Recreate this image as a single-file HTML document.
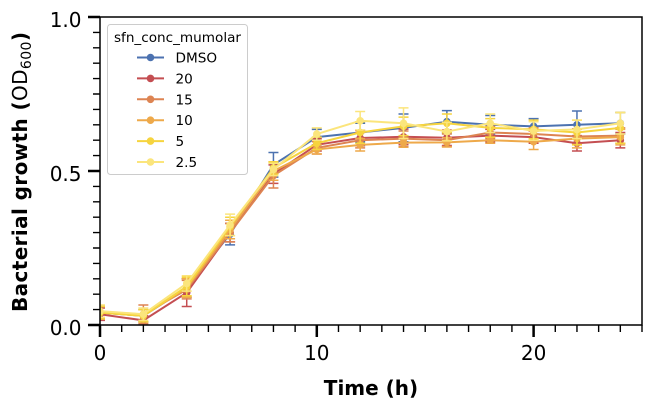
<!DOCTYPE html>
<html><head><meta charset="utf-8"><style>
html,body{margin:0;padding:0;background:#fff;}
svg{display:block;font-family:"DejaVu Sans","Liberation Sans",sans-serif;}
</style></head><body>
<svg width="652" height="408" viewBox="0 0 652 408" xmlns="http://www.w3.org/2000/svg">
<rect width="652" height="408" fill="#fff"/>
<defs><clipPath id="c"><rect x="100" y="17" width="542" height="308"/></clipPath></defs>
<g clip-path="url(#c)" fill="none" stroke-width="2" stroke-linejoin="round">
<!-- DMSO -->
<g stroke="#4c72b0">
<polyline points="100,312.68 143.36,315.76 186.72,288.04 230.08,234.14 273.44,164.84 316.8,137.12 360.16,132.5 403.52,127.88 446.88,121.72 490.24,124.8 533.6,126.34 576.96,124.8 620.32,123.26"/>
<g stroke-width="1.5">
<path transform="translate(100,312.68)" d="M0-6.16V6.16M-5-6.16h10M-5 6.16h10"/>
<path transform="translate(143.36,315.76)" d="M0-6.16V6.16M-5-6.16h10M-5 6.16h10"/>
<path transform="translate(186.72,288.04)" d="M0-9.24V9.24M-5-9.24h10M-5 9.24h10"/>
<path transform="translate(230.08,234.14)" d="M0-10.78V10.78M-5-10.78h10M-5 10.78h10"/>
<path transform="translate(273.44,164.84)" d="M0-12.32V12.32M-5-12.32h10M-5 12.32h10"/>
<path transform="translate(316.8,137.12)" d="M0-7.7V7.7M-5-7.7h10M-5 7.7h10"/>
<path transform="translate(360.16,132.5)" d="M0-9.24V9.24M-5-9.24h10M-5 9.24h10"/>
<path transform="translate(403.52,127.88)" d="M0-13.86V13.86M-5-13.86h10M-5 13.86h10"/>
<path transform="translate(446.88,121.72)" d="M0-11.09V11.09M-5-11.09h10M-5 11.09h10"/>
<path transform="translate(490.24,124.8)" d="M0-9.24V9.24M-5-9.24h10M-5 9.24h10"/>
<path transform="translate(533.6,126.34)" d="M0-7.7V7.7M-5-7.7h10M-5 7.7h10"/>
<path transform="translate(576.96,124.8)" d="M0-13.86V13.86M-5-13.86h10M-5 13.86h10"/>
<path transform="translate(620.32,123.26)" d="M0-10.78V10.78M-5-10.78h10M-5 10.78h10"/>
</g>
<g fill="#4c72b0" stroke="none">
<circle cx="100" cy="312.68" r="3.8"/><circle cx="143.36" cy="315.76" r="3.8"/><circle cx="186.72" cy="288.04" r="3.8"/><circle cx="230.08" cy="234.14" r="3.8"/><circle cx="273.44" cy="164.84" r="3.8"/><circle cx="316.8" cy="137.12" r="3.8"/><circle cx="360.16" cy="132.5" r="3.8"/><circle cx="403.52" cy="127.88" r="3.8"/><circle cx="446.88" cy="121.72" r="3.8"/><circle cx="490.24" cy="124.8" r="3.8"/><circle cx="533.6" cy="126.34" r="3.8"/><circle cx="576.96" cy="124.8" r="3.8"/><circle cx="620.32" cy="123.26" r="3.8"/>
</g></g>
<!-- 20 -->
<g stroke="#c44e52">
<polyline points="100,314.22 143.36,320.38 186.72,292.66 230.08,232.6 273.44,174.08 316.8,144.82 360.16,138.04 403.52,136.81 446.88,137.74 490.24,135.58 533.6,137.12 576.96,143.28 620.32,140.2"/>
<g stroke-width="1.5">
<path transform="translate(100,314.22)" d="M0-6.16V6.16M-5-6.16h10M-5 6.16h10"/>
<path transform="translate(143.36,320.38)" d="M0-4.62V4.62M-5-4.62h10M-5 4.62h10"/>
<path transform="translate(186.72,292.66)" d="M0-13.86V13.86M-5-13.86h10M-5 13.86h10"/>
<path transform="translate(230.08,232.6)" d="M0-9.24V9.24M-5-9.24h10M-5 9.24h10"/>
<path transform="translate(273.44,174.08)" d="M0-9.24V9.24M-5-9.24h10M-5 9.24h10"/>
<path transform="translate(316.8,144.82)" d="M0-6.16V6.16M-5-6.16h10M-5 6.16h10"/>
<path transform="translate(360.16,138.04)" d="M0-7.7V7.7M-5-7.7h10M-5 7.7h10"/>
<path transform="translate(403.52,136.81)" d="M0-7.7V7.7M-5-7.7h10M-5 7.7h10"/>
<path transform="translate(446.88,137.74)" d="M0-7.7V7.7M-5-7.7h10M-5 7.7h10"/>
<path transform="translate(490.24,135.58)" d="M0-6.16V6.16M-5-6.16h10M-5 6.16h10"/>
<path transform="translate(533.6,137.12)" d="M0-6.16V6.16M-5-6.16h10M-5 6.16h10"/>
<path transform="translate(576.96,143.28)" d="M0-7.7V7.7M-5-7.7h10M-5 7.7h10"/>
<path transform="translate(620.32,140.2)" d="M0-7.7V7.7M-5-7.7h10M-5 7.7h10"/>
</g>
<g fill="#c44e52" stroke="none">
<circle cx="100" cy="314.22" r="3.8"/><circle cx="143.36" cy="320.38" r="3.8"/><circle cx="186.72" cy="292.66" r="3.8"/><circle cx="230.08" cy="232.6" r="3.8"/><circle cx="273.44" cy="174.08" r="3.8"/><circle cx="316.8" cy="144.82" r="3.8"/><circle cx="360.16" cy="138.04" r="3.8"/><circle cx="403.52" cy="136.81" r="3.8"/><circle cx="446.88" cy="137.74" r="3.8"/><circle cx="490.24" cy="135.58" r="3.8"/><circle cx="533.6" cy="137.12" r="3.8"/><circle cx="576.96" cy="143.28" r="3.8"/><circle cx="620.32" cy="140.2" r="3.8"/>
</g></g>
<!-- 15 -->
<g stroke="#dd8452">
<polyline points="100,312.68 143.36,314.22 186.72,289.58 230.08,232.6 273.44,175.62 316.8,147.9 360.16,140.2 403.52,138.66 446.88,140.2 490.24,132.5 533.6,134.04 576.96,136.5 620.32,135.58"/>
<g stroke-width="1.5">
<path transform="translate(100,312.68)" d="M0-6.16V6.16M-5-6.16h10M-5 6.16h10"/>
<path transform="translate(143.36,314.22)" d="M0-9.24V9.24M-5-9.24h10M-5 9.24h10"/>
<path transform="translate(186.72,289.58)" d="M0-9.24V9.24M-5-9.24h10M-5 9.24h10"/>
<path transform="translate(230.08,232.6)" d="M0-9.24V9.24M-5-9.24h10M-5 9.24h10"/>
<path transform="translate(273.44,175.62)" d="M0-12.32V12.32M-5-12.32h10M-5 12.32h10"/>
<path transform="translate(316.8,147.9)" d="M0-6.16V6.16M-5-6.16h10M-5 6.16h10"/>
<path transform="translate(360.16,140.2)" d="M0-7.7V7.7M-5-7.7h10M-5 7.7h10"/>
<path transform="translate(403.52,138.66)" d="M0-7.7V7.7M-5-7.7h10M-5 7.7h10"/>
<path transform="translate(446.88,140.2)" d="M0-6.16V6.16M-5-6.16h10M-5 6.16h10"/>
<path transform="translate(490.24,132.5)" d="M0-6.16V6.16M-5-6.16h10M-5 6.16h10"/>
<path transform="translate(533.6,134.04)" d="M0-6.16V6.16M-5-6.16h10M-5 6.16h10"/>
<path transform="translate(576.96,136.5)" d="M0-7.7V7.7M-5-7.7h10M-5 7.7h10"/>
<path transform="translate(620.32,135.58)" d="M0-7.7V7.7M-5-7.7h10M-5 7.7h10"/>
</g>
<g fill="#dd8452" stroke="none">
<circle cx="100" cy="312.68" r="3.8"/><circle cx="143.36" cy="314.22" r="3.8"/><circle cx="186.72" cy="289.58" r="3.8"/><circle cx="230.08" cy="232.6" r="3.8"/><circle cx="273.44" cy="175.62" r="3.8"/><circle cx="316.8" cy="147.9" r="3.8"/><circle cx="360.16" cy="140.2" r="3.8"/><circle cx="403.52" cy="138.66" r="3.8"/><circle cx="446.88" cy="140.2" r="3.8"/><circle cx="490.24" cy="132.5" r="3.8"/><circle cx="533.6" cy="134.04" r="3.8"/><circle cx="576.96" cy="136.5" r="3.8"/><circle cx="620.32" cy="135.58" r="3.8"/>
</g></g>
<!-- 10 -->
<g stroke="#eea94a">
<polyline points="100,312.68 143.36,315.76 186.72,288.04 230.08,229.52 273.44,171 316.8,149.44 360.16,144.82 403.52,142.66 446.88,142.36 490.24,140.2 533.6,141.74 576.96,138.66 620.32,137.12"/>
<g stroke-width="1.5">
<path transform="translate(100,312.68)" d="M0-6.16V6.16M-5-6.16h10M-5 6.16h10"/>
<path transform="translate(143.36,315.76)" d="M0-6.16V6.16M-5-6.16h10M-5 6.16h10"/>
<path transform="translate(186.72,288.04)" d="M0-9.24V9.24M-5-9.24h10M-5 9.24h10"/>
<path transform="translate(230.08,229.52)" d="M0-9.24V9.24M-5-9.24h10M-5 9.24h10"/>
<path transform="translate(273.44,171)" d="M0-9.24V9.24M-5-9.24h10M-5 9.24h10"/>
<path transform="translate(316.8,149.44)" d="M0-4.62V4.62M-5-4.62h10M-5 4.62h10"/>
<path transform="translate(360.16,144.82)" d="M0-6.16V6.16M-5-6.16h10M-5 6.16h10"/>
<path transform="translate(403.52,142.66)" d="M0-4.62V4.62M-5-4.62h10M-5 4.62h10"/>
<path transform="translate(446.88,142.36)" d="M0-4.62V4.62M-5-4.62h10M-5 4.62h10"/>
<path transform="translate(490.24,140.2)" d="M0-3.08V3.08M-5-3.08h10M-5 3.08h10"/>
<path transform="translate(533.6,141.74)" d="M0-7.7V7.7M-5-7.7h10M-5 7.7h10"/>
<path transform="translate(576.96,138.66)" d="M0-9.24V9.24M-5-9.24h10M-5 9.24h10"/>
<path transform="translate(620.32,137.12)" d="M0-7.7V7.7M-5-7.7h10M-5 7.7h10"/>
</g>
<g fill="#eea94a" stroke="none">
<circle cx="100" cy="312.68" r="3.8"/><circle cx="143.36" cy="315.76" r="3.8"/><circle cx="186.72" cy="288.04" r="3.8"/><circle cx="230.08" cy="229.52" r="3.8"/><circle cx="273.44" cy="171" r="3.8"/><circle cx="316.8" cy="149.44" r="3.8"/><circle cx="360.16" cy="144.82" r="3.8"/><circle cx="403.52" cy="142.66" r="3.8"/><circle cx="446.88" cy="142.36" r="3.8"/><circle cx="490.24" cy="140.2" r="3.8"/><circle cx="533.6" cy="141.74" r="3.8"/><circle cx="576.96" cy="138.66" r="3.8"/><circle cx="620.32" cy="137.12" r="3.8"/>
</g></g>
<!-- 5 -->
<g stroke="#f6d43e">
<polyline points="100,312.68 143.36,315.76 186.72,286.5 230.08,226.44 273.44,167.92 316.8,143.28 360.16,132.5 403.52,126.34 446.88,123.26 490.24,127.88 533.6,129.42 576.96,132.5 620.32,127.88"/>
<g stroke-width="1.5">
<path transform="translate(100,312.68)" d="M0-6.16V6.16M-5-6.16h10M-5 6.16h10"/>
<path transform="translate(143.36,315.76)" d="M0-6.16V6.16M-5-6.16h10M-5 6.16h10"/>
<path transform="translate(186.72,286.5)" d="M0-9.24V9.24M-5-9.24h10M-5 9.24h10"/>
<path transform="translate(230.08,226.44)" d="M0-9.24V9.24M-5-9.24h10M-5 9.24h10"/>
<path transform="translate(273.44,167.92)" d="M0-6.16V6.16M-5-6.16h10M-5 6.16h10"/>
<path transform="translate(316.8,143.28)" d="M0-6.16V6.16M-5-6.16h10M-5 6.16h10"/>
<path transform="translate(360.16,132.5)" d="M0-10.78V10.78M-5-10.78h10M-5 10.78h10"/>
<path transform="translate(403.52,126.34)" d="M0-9.24V9.24M-5-9.24h10M-5 9.24h10"/>
<path transform="translate(446.88,123.26)" d="M0-9.24V9.24M-5-9.24h10M-5 9.24h10"/>
<path transform="translate(490.24,127.88)" d="M0-9.24V9.24M-5-9.24h10M-5 9.24h10"/>
<path transform="translate(533.6,129.42)" d="M0-9.24V9.24M-5-9.24h10M-5 9.24h10"/>
<path transform="translate(576.96,132.5)" d="M0-12.32V12.32M-5-12.32h10M-5 12.32h10"/>
<path transform="translate(620.32,127.88)" d="M0-15.4V15.4M-5-15.4h10M-5 15.4h10"/>
</g>
<g fill="#f6d43e" stroke="none">
<circle cx="100" cy="312.68" r="3.8"/><circle cx="143.36" cy="315.76" r="3.8"/><circle cx="186.72" cy="286.5" r="3.8"/><circle cx="230.08" cy="226.44" r="3.8"/><circle cx="273.44" cy="167.92" r="3.8"/><circle cx="316.8" cy="143.28" r="3.8"/><circle cx="360.16" cy="132.5" r="3.8"/><circle cx="403.52" cy="126.34" r="3.8"/><circle cx="446.88" cy="123.26" r="3.8"/><circle cx="490.24" cy="127.88" r="3.8"/><circle cx="533.6" cy="129.42" r="3.8"/><circle cx="576.96" cy="132.5" r="3.8"/><circle cx="620.32" cy="127.88" r="3.8"/>
</g></g>
<!-- 2.5 -->
<g stroke="#fbe57c">
<polyline points="100,311.14 143.36,314.22 186.72,283.42 230.08,224.9 273.44,169.46 316.8,134.04 360.16,120.8 403.52,123.26 446.88,131.58 490.24,123.26 533.6,130.96 576.96,129.42 620.32,123.26"/>
<g stroke-width="1.5">
<path transform="translate(100,311.14)" d="M0-6.16V6.16M-5-6.16h10M-5 6.16h10"/>
<path transform="translate(143.36,314.22)" d="M0-6.16V6.16M-5-6.16h10M-5 6.16h10"/>
<path transform="translate(186.72,283.42)" d="M0-7.7V7.7M-5-7.7h10M-5 7.7h10"/>
<path transform="translate(230.08,224.9)" d="M0-10.78V10.78M-5-10.78h10M-5 10.78h10"/>
<path transform="translate(273.44,169.46)" d="M0-6.16V6.16M-5-6.16h10M-5 6.16h10"/>
<path transform="translate(316.8,134.04)" d="M0-6.16V6.16M-5-6.16h10M-5 6.16h10"/>
<path transform="translate(360.16,120.8)" d="M0-9.24V9.24M-5-9.24h10M-5 9.24h10"/>
<path transform="translate(403.52,123.26)" d="M0-15.4V15.4M-5-15.4h10M-5 15.4h10"/>
<path transform="translate(446.88,131.58)" d="M0-9.24V9.24M-5-9.24h10M-5 9.24h10"/>
<path transform="translate(490.24,123.26)" d="M0-9.24V9.24M-5-9.24h10M-5 9.24h10"/>
<path transform="translate(533.6,130.96)" d="M0-9.24V9.24M-5-9.24h10M-5 9.24h10"/>
<path transform="translate(576.96,129.42)" d="M0-9.24V9.24M-5-9.24h10M-5 9.24h10"/>
<path transform="translate(620.32,123.26)" d="M0-10.78V10.78M-5-10.78h10M-5 10.78h10"/>
</g>
<g fill="#fbe57c" stroke="none">
<circle cx="100" cy="311.14" r="3.8"/><circle cx="143.36" cy="314.22" r="3.8"/><circle cx="186.72" cy="283.42" r="3.8"/><circle cx="230.08" cy="224.9" r="3.8"/><circle cx="273.44" cy="169.46" r="3.8"/><circle cx="316.8" cy="134.04" r="3.8"/><circle cx="360.16" cy="120.8" r="3.8"/><circle cx="403.52" cy="123.26" r="3.8"/><circle cx="446.88" cy="131.58" r="3.8"/><circle cx="490.24" cy="123.26" r="3.8"/><circle cx="533.6" cy="130.96" r="3.8"/><circle cx="576.96" cy="129.42" r="3.8"/><circle cx="620.32" cy="123.26" r="3.8"/>
</g></g>
</g>

<!-- spines -->
<rect x="100" y="17" width="542" height="308" fill="none" stroke="#000" stroke-width="1.5"/>

<!-- ticks -->
<g stroke="#000">
<path stroke-width="2.5" d="M88 17H100M88 171H100M88 325H100M100 325V337M316.8 325V337M533.6 325V337"/>
<path stroke-width="1.4" d="M93 309.6H100M93 294.2H100M93 278.8H100M93 263.4H100M93 248H100M93 232.6H100M93 217.2H100M93 201.8H100M93 186.4H100M93 155.6H100M93 140.2H100M93 124.8H100M93 109.4H100M93 94H100M93 78.6H100M93 63.2H100M93 47.8H100M93 32.4H100
M121.68 325V332M143.36 325V332M165.04 325V332M186.72 325V332M208.4 325V332M230.08 325V332M251.76 325V332M273.44 325V332M295.12 325V332M338.48 325V332M360.16 325V332M381.84 325V332M403.52 325V332M425.2 325V332M446.88 325V332M468.56 325V332M490.24 325V332M511.92 325V332M555.28 325V332M576.96 325V332M598.64 325V332M620.32 325V332M642 325V332"/>
</g>

<!-- tick labels -->
<g font-size="20" fill="#000">
<text x="81.5" y="27" text-anchor="end">1.0</text>
<text x="81.5" y="181" text-anchor="end">0.5</text>
<text x="81.5" y="335" text-anchor="end">0.0</text>
<text x="100" y="360" text-anchor="middle">0</text>
<text x="316.8" y="360" text-anchor="middle">10</text>
<text x="533.6" y="360" text-anchor="middle">20</text>
</g>

<!-- axis labels -->
<text x="371" y="395" text-anchor="middle" font-size="20" font-weight="bold" fill="#000">Time (h)</text>
<text transform="translate(27,172) rotate(-90)" text-anchor="middle" font-size="20" font-weight="bold" fill="#000" textLength="280" lengthAdjust="spacing">Bacterial growth (<tspan font-weight="normal">OD</tspan><tspan font-weight="normal" font-size="14" dy="4">600</tspan><tspan dy="-4">)</tspan></text>

<!-- legend -->
<rect x="107.5" y="24.5" width="140" height="150" rx="3" ry="3" fill="#fff" fill-opacity="0.8" stroke="#cccccc" stroke-width="1"/>
<text x="177.5" y="42" text-anchor="middle" font-size="13.6" fill="#000">sfn_conc_mumolar</text>
<g stroke-width="2" font-size="13.6">
<line x1="137" y1="57.5" x2="164" y2="57.5" stroke="#4c72b0"/><circle cx="150.5" cy="57.5" r="3.8" fill="#4c72b0"/><text x="175.5" y="62.5" fill="#000">DMSO</text>
<line x1="137" y1="78.4" x2="164" y2="78.4" stroke="#c44e52"/><circle cx="150.5" cy="78.4" r="3.8" fill="#c44e52"/><text x="175.5" y="83.4" fill="#000">20</text>
<line x1="137" y1="99.3" x2="164" y2="99.3" stroke="#dd8452"/><circle cx="150.5" cy="99.3" r="3.8" fill="#dd8452"/><text x="175.5" y="104.3" fill="#000">15</text>
<line x1="137" y1="120.2" x2="164" y2="120.2" stroke="#eea94a"/><circle cx="150.5" cy="120.2" r="3.8" fill="#eea94a"/><text x="175.5" y="125.2" fill="#000">10</text>
<line x1="137" y1="141.1" x2="164" y2="141.1" stroke="#f6d43e"/><circle cx="150.5" cy="141.1" r="3.8" fill="#f6d43e"/><text x="175.5" y="146.1" fill="#000">5</text>
<line x1="137" y1="162" x2="164" y2="162" stroke="#fbe57c"/><circle cx="150.5" cy="162" r="3.8" fill="#fbe57c"/><text x="175.5" y="167" fill="#000">2.5</text>
</g>
</svg>
</body></html>
